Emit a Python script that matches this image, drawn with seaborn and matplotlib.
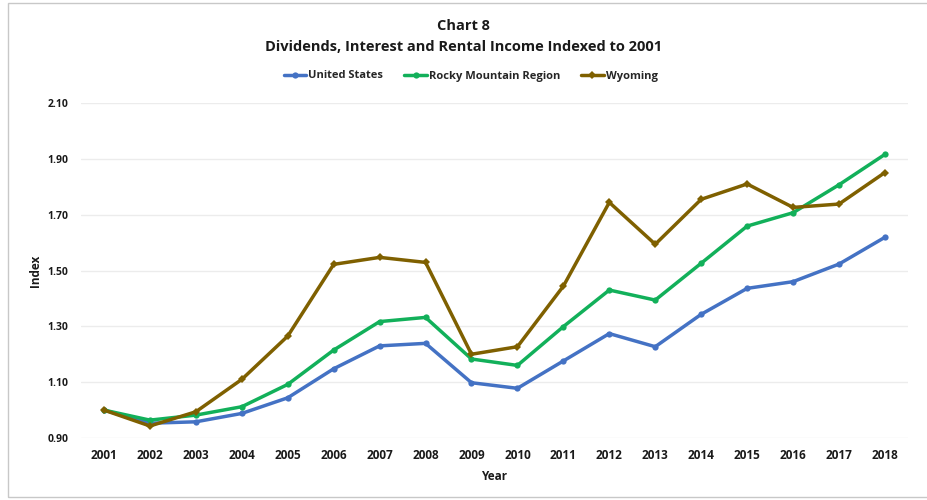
import matplotlib
matplotlib.use("Agg")
import matplotlib.pyplot as plt
from matplotlib.patches import Rectangle
import pandas as pd
import seaborn as sns

years = list(range(2001, 2019))
united_states = [1.00, 0.953, 0.958, 0.988, 1.044, 1.148, 1.230, 1.239, 1.098,
                 1.078, 1.176, 1.274, 1.227, 1.343, 1.436, 1.460, 1.523, 1.619]
rocky_mountain = [1.00, 0.964, 0.982, 1.012, 1.092, 1.215, 1.317, 1.332, 1.183,
                  1.160, 1.299, 1.430, 1.394, 1.526, 1.659, 1.707, 1.807, 1.916]
wyoming = [1.00, 0.943, 0.994, 1.110, 1.265, 1.522, 1.547, 1.529, 1.200,
           1.227, 1.444, 1.744, 1.594, 1.755, 1.810, 1.726, 1.738, 1.851]
series_names = ["United States", "Rocky Mountain Region", "Wyoming"]
y_ticks = [0.90, 1.10, 1.30, 1.50, 1.70, 1.90, 2.10]

df = pd.DataFrame({
    "Year": years * 3,
    "Index": united_states + rocky_mountain + wyoming,
    "Series": [s for s in series_names for _ in years],
})

sns.set_theme(style="white")
plt.rcParams["font.family"] = ["Open Sans", "DejaVu Sans"]
plt.rcParams["font.weight"] = "bold"

palette = {"United States": "#4472C4",
           "Rocky Mountain Region": "#12B05A",
           "Wyoming": "#7F6000"}
text_color = "#1a1a1a"

fig = plt.figure(figsize=(9.27, 5.0), dpi=100)
ax = fig.add_axes([0.0874, 0.124, 0.892, 0.670])

sns.lineplot(data=df, x="Year", y="Index", hue="Series", hue_order=series_names,
             palette=palette, style="Series", markers=["o", "o", "D"],
             dashes=False, markersize=4.5, linewidth=2.5, markeredgewidth=0,
             ax=ax, legend=True)

ax.set_xlim(2000.5, 2018.5)
ax.set_ylim(0.90, 2.10)
ax.set_xticks(years)
ax.set_xticklabels([str(y) for y in years], fontsize=8.5, fontweight="bold")
ax.set_yticks(y_ticks)
ax.set_yticklabels([f"{v:.2f}" for v in y_ticks], fontsize=7.5, fontweight="bold")
ax.tick_params(axis="both", length=0, colors=text_color)
ax.tick_params(axis="y", pad=9)
ax.tick_params(axis="x", pad=8)
ax.yaxis.grid(True, color="#ececec", linewidth=1.0)
ax.set_axisbelow(True)
for sp in ax.spines.values():
    sp.set_visible(False)

ax.set_xlabel("Year", fontsize=8.5, fontweight="bold", labelpad=6, color=text_color)
ax.set_ylabel("Index", fontsize=8.5, fontweight="bold", labelpad=4, color=text_color)

handles, labels = ax.get_legend_handles_labels()
ax.legend(handles, labels, loc="center", bbox_to_anchor=(0.508, 0.848),
          bbox_transform=fig.transFigure, ncol=3, frameon=False,
          prop={"size": 8, "weight": "bold"}, handlelength=2.0,
          columnspacing=1.9, handletextpad=0.2)

fig.text(0.5, 0.947, "Chart 8", ha="center", va="center",
         fontsize=10.5, fontweight="bold", color=text_color)
fig.text(0.5, 0.906, "Dividends, Interest and Rental Income Indexed to 2001",
         ha="center", va="center", fontsize=10.5, fontweight="bold", color=text_color)

# thin frame around the chart area
fig.patches.append(Rectangle((0.009, 0.006), 1.2, 0.988, transform=fig.transFigure,
                             fill=False, edgecolor="#c8c8c8", linewidth=1.0))

fig.savefig("out.png", dpi=100, facecolor="white")
